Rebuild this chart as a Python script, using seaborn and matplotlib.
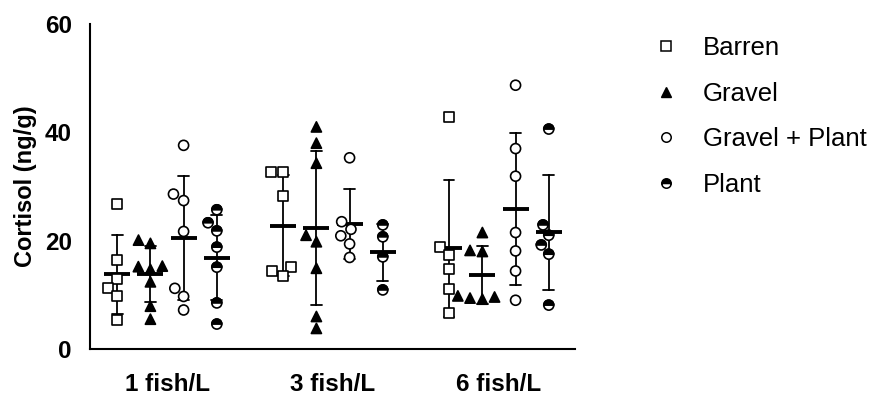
import matplotlib
matplotlib.use("Agg")
from matplotlib import pyplot as plt
from matplotlib.lines import Line2D
from matplotlib.path import Path
import seaborn as sns
import numpy as np
import pandas as pd

# categories
groups = ["1 fish/L", "3 fish/L", "6 fish/L"]
substrates = ["Barren", "Gravel", "Gravel + Plant", "Plant"]

# cortisol values (ng/g)
barren_1 = [26.7, 16.5, 13.0, 11.2, 9.8, 5.4]
gravel_1 = [20.1, 19.5, 15.2, 14.7, 15.3, 12.4, 7.9, 5.5]
gp_1 = [37.6, 28.6, 27.4, 21.7, 11.2, 9.7, 7.2]
plant_1 = [25.7, 23.3, 21.8, 18.8, 15.1, 8.5, 4.6]

barren_3 = [32.6, 32.7, 28.2, 15.2, 14.4, 13.5]
gravel_3 = [41.0, 38.0, 34.3, 21.0, 19.8, 14.9, 6.0, 3.8]
gp_3 = [35.3, 23.5, 22.1, 20.9, 19.4, 16.9]
plant_3 = [22.9, 20.7, 17.0, 10.9]

barren_6 = [42.8, 18.9, 17.4, 14.7, 11.0, 6.6]
gravel_6 = [21.5, 18.0, 18.2, 9.8, 9.2, 9.4, 9.6]
gp_6 = [48.7, 37.0, 31.9, 21.5, 18.1, 14.4, 9.0]
plant_6 = [40.6, 22.9, 21.0, 19.2, 17.5, 8.1]

values = {
    ("1 fish/L", "Barren"): barren_1, ("1 fish/L", "Gravel"): gravel_1,
    ("1 fish/L", "Gravel + Plant"): gp_1, ("1 fish/L", "Plant"): plant_1,
    ("3 fish/L", "Barren"): barren_3, ("3 fish/L", "Gravel"): gravel_3,
    ("3 fish/L", "Gravel + Plant"): gp_3, ("3 fish/L", "Plant"): plant_3,
    ("6 fish/L", "Barren"): barren_6, ("6 fish/L", "Gravel"): gravel_6,
    ("6 fish/L", "Gravel + Plant"): gp_6, ("6 fish/L", "Plant"): plant_6,
}
rows = []
for (g, s), vals in values.items():
    for v in vals:
        rows.append({"density": g, "substrate": s, "cortisol": v})
df = pd.DataFrame(rows)

sns.set_style("white")
plt.rcParams["font.family"] = ["Liberation Sans", "DejaVu Sans"]
plt.rcParams["text.color"] = "black"
plt.rcParams["axes.labelcolor"] = "black"
plt.rcParams["xtick.color"] = "black"
plt.rcParams["ytick.color"] = "black"

fig = plt.figure(figsize=(8.72, 3.94), dpi=100)
ax = fig.add_axes([90 / 872, 1 - 349 / 394, 485 / 872, 325 / 394])

top_half = Path.wedge(0, 180)
white = {s: "white" for s in substrates}
black = {s: "black" for s in substrates}
styles = {
    "Barren": ("s", white, 7.2),
    "Gravel": ("^", black, 7.3),
    "Gravel + Plant": ("o", white, 7.2),
    "Plant": ("o", white, 7.2),
}
for s in substrates:
    sub = df[df.substrate == s]
    mk, pal, sz = styles[s]
    sns.swarmplot(data=sub, x="density", y="cortisol", hue="substrate",
                  order=groups, hue_order=substrates, dodge=True, palette=pal,
                  marker=mk, size=sz, edgecolor="black", linewidth=1.2,
                  legend=False, warn_thresh=1, ax=ax)
    if s == "Plant":
        # top half filled
        sns.swarmplot(data=sub, x="density", y="cortisol", hue="substrate",
                      order=groups, hue_order=substrates, dodge=True, palette=black,
                      marker=top_half, size=sz, edgecolor="black", linewidth=1.2,
                      legend=False, warn_thresh=1, ax=ax)

# mean +/- SD
sns.pointplot(data=df, x="density", y="cortisol", hue="substrate",
              order=groups, hue_order=substrates, dodge=0.6, palette=black,
              errorbar="sd", markers="_", linestyle="none", capsize=0.064,
              markersize=19, markeredgewidth=2.8, err_kws={"linewidth": 1.3},
              legend=False, ax=ax)

ax.set_xlim(-0.464, 2.458)
ax.set_ylim(0, 60)
ax.set_yticks([0, 20, 40, 60])
ax.set_xlabel("")
ax.set_ylabel("Cortisol (ng/g)", fontsize=17, fontweight="bold", labelpad=6)
for side in ["top", "right"]:
    ax.spines[side].set_visible(False)
for side in ["left", "bottom"]:
    ax.spines[side].set_linewidth(1.5)
    ax.spines[side].set_color("black")
ax.tick_params(axis="both", length=9, width=1.5, color="black", direction="out")
ax.tick_params(axis="y", pad=4, labelsize=17.5)
ax.tick_params(axis="x", pad=8, labelsize=17.5)
for lab in ax.get_xticklabels() + ax.get_yticklabels():
    lab.set_fontweight("bold")

handles = [
    Line2D([], [], marker="s", linestyle="none", markersize=6.8, markerfacecolor="white",
           markeredgecolor="black", markeredgewidth=1.1),
    Line2D([], [], marker="^", linestyle="none", markersize=6.8, color="black"),
    Line2D([], [], marker="o", linestyle="none", markersize=6.8, markerfacecolor="white",
           markeredgecolor="black", markeredgewidth=1.1),
    Line2D([], [], marker="o", linestyle="none", markersize=6.8, fillstyle="top",
           markerfacecolor="black", markerfacecoloralt="white",
           markeredgecolor="black", markeredgewidth=1.1),
]
fig.legend(handles, substrates, loc="upper left", bbox_to_anchor=(653 / 872, 1 - 36 / 394),
           frameon=False, fontsize=18.5, handlelength=1.0, handletextpad=0.95,
           labelspacing=0.84, borderpad=0, borderaxespad=0)

fig.savefig("out.png", dpi=100)
